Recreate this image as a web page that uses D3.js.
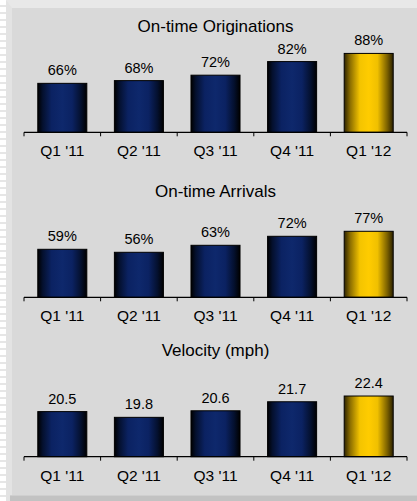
<!DOCTYPE html>
<html>
<head>
<meta charset="utf-8">
<script src="https://cdn.jsdelivr.net/npm/d3@7"></script>
<style>
  html, body { margin: 0; padding: 0; background: #e6e6e6; }
  svg { display: block; font-family: "Liberation Sans", Arial, sans-serif; }
</style>
</head>
<body>
<svg id="chart" width="417" height="501"></svg>
<script>
// Quarterly service metrics
const categories = ["Q1 '11", "Q2 '11", "Q3 '11", "Q4 '11", "Q1 '12"];
const originations = [66, 68, 72, 82, 88];
const arrivals = [59, 56, 63, 72, 77];
const velocity = [20.5, 19.8, 20.6, 21.7, 22.4];
const panelTitles = ["On-time Originations", "On-time Arrivals", "Velocity (mph)"];
const axisMin = [30, 11, 15];
const axisMax = [100, 100, 25];
const labelSuffix = ["%", "%", ""];
const labelDecimals = [0, 0, 1];

const series = [originations, arrivals, velocity];

// Panel geometry
const W = 417, H = 501;
const plotLeft = 24, plotRight = 407;
const axisY = [132.3, 297.3, 456.7];
const plotH = [95.2, 89, 82];

const svg = d3.select("#chart");
const defs = svg.append("defs");

function barGradient(id, stops) {
  const g = defs.append("linearGradient").attr("id", id)
    .attr("x1", "0%").attr("x2", "100%").attr("y1", "0%").attr("y2", "0%");
  stops.forEach(([o, c]) => g.append("stop").attr("offset", o).attr("stop-color", c));
}
barGradient("navy", [
  ["0%", "#000000"], ["10%", "#04102e"], ["28%", "#0b2262"], ["50%", "#0e286c"],
  ["70%", "#0b2262"], ["88%", "#04102e"], ["100%", "#000000"]
]);
barGradient("gold", [
  ["0%", "#2e2400"], ["12%", "#8a6c00"], ["32%", "#f4c400"], ["50%", "#ffcc00"],
  ["68%", "#f0c000"], ["88%", "#7a6000"], ["100%", "#2a2000"]
]);

// Frame: striped left edge, light bevel, inner panel, darker bottom strip
svg.append("rect").attr("width", W).attr("height", H).attr("fill", "#e6e6e6");
const stripes = d3.range(0, H, 7);
svg.append("g").selectAll("rect").data(stripes).join("rect")
  .attr("x", 0).attr("y", d => d).attr("width", 6).attr("height", 5).attr("fill", "#ffffff");
svg.append("rect").attr("x", 6).attr("y", 0).attr("width", W - 6).attr("height", 8).attr("fill", "#e8e8e8");
svg.append("path")
  .attr("d", `M6,0 L12,8 L12,${H} L6,${H} Z`).attr("fill", "#e3e3e3");
svg.append("rect").attr("x", 12).attr("y", 8).attr("width", W - 12).attr("height", 487).attr("fill", "#d9d9d9");
svg.append("rect").attr("x", 10).attr("y", 495).attr("width", W - 10).attr("height", 6).attr("fill", "#c2c2c2");
svg.append("rect").attr("x", 10).attr("y", 495).attr("width", W - 10).attr("height", 1).attr("fill", "#cfcfcf");

const x = d3.scaleBand().domain(categories).range([plotLeft, plotRight])
  .paddingInner(0.36).paddingOuter(0.18);
const step = x.step();

series.forEach((vals, p) => {
  const base = axisY[p];
  const y = d3.scaleLinear().domain([axisMin[p], axisMax[p]]).range([base, base - plotH[p]]);
  const g = svg.append("g");

  g.append("text")
    .attr("x", (plotLeft + plotRight) / 2).attr("y", base - 100.8)
    .attr("text-anchor", "middle").attr("font-size", 17).attr("fill", "#000")
    .text(panelTitles[p]);

  g.selectAll("rect.bar").data(vals).join("rect").attr("class", "bar")
    .attr("x", (d, i) => x(categories[i]))
    .attr("width", x.bandwidth())
    .attr("y", d => y(d))
    .attr("height", d => base - y(d))
    .attr("fill", (d, i) => i === categories.length - 1 ? "url(#gold)" : "url(#navy)")
    .attr("stroke", "#000").attr("stroke-width", 1);

  g.selectAll("text.val").data(vals).join("text").attr("class", "val")
    .attr("x", (d, i) => x(categories[i]) + x.bandwidth() / 2)
    .attr("y", d => y(d) - 8)
    .attr("text-anchor", "middle").attr("font-size", 14.5).attr("fill", "#000")
    .text(d => d3.format(`.${labelDecimals[p]}f`)(d) + labelSuffix[p]);

  // Category axis with ticks between bands
  const axis = d3.axisBottom(x).tickSize(0).tickPadding(0);
  const ag = g.append("g").attr("transform", `translate(0,${base})`).call(axis);
  ag.select(".domain").remove();
  ag.selectAll("text").attr("dy", null).attr("y", 24)
    .attr("font-size", 15.5).attr("font-family", "Liberation Sans, Arial, sans-serif").attr("fill", "#000");

  g.append("line").attr("x1", plotLeft).attr("x2", plotRight)
    .attr("y1", base).attr("y2", base).attr("stroke", "#000").attr("stroke-width", 1.2);
  const edges = categories.map(c => x(c) - step * x.paddingInner() / 2).concat([plotRight]);
  g.selectAll("line.tick").data(edges).join("line").attr("class", "tick")
    .attr("x1", d => d).attr("x2", d => d)
    .attr("y1", base).attr("y2", base + 4)
    .attr("stroke", "#000").attr("stroke-width", 1);
});
</script>
</body>
</html>
